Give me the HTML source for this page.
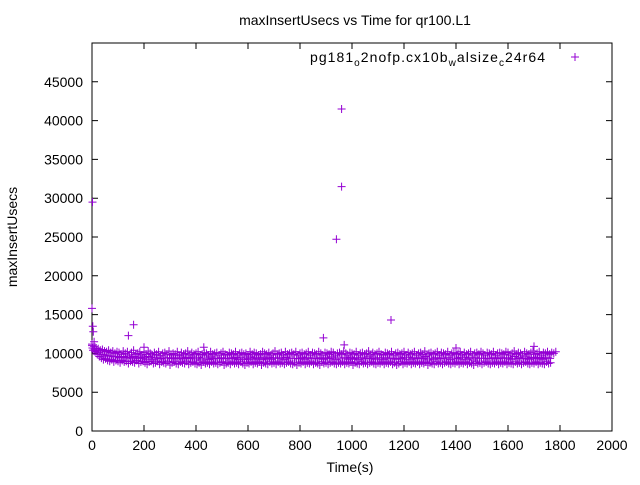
<!DOCTYPE html>
<html><head><meta charset="utf-8"><style>
body{margin:0;background:#fff}
svg text{font-family:"Liberation Sans",sans-serif;font-size:14px;fill:#000}
</style></head><body>
<svg id="chart" width="640" height="480" xmlns="http://www.w3.org/2000/svg">
<rect width="640" height="480" fill="#fff"/>
<text x="355" y="25" text-anchor="middle">maxInsertUsecs vs Time for qr100.L1</text>
<text transform="translate(17,237) rotate(-90)" text-anchor="middle">maxInsertUsecs</text>
<text x="350" y="472" text-anchor="middle">Time(s)</text>
<g id="axes"></g>
<g id="marks"></g>
<g>
<text x="310" y="62" textLength="235" lengthAdjust="spacing">pg181<tspan dy="4" font-size="10">o</tspan><tspan dy="-4">2nofp.cx10b</tspan><tspan dy="4" font-size="10">w</tspan><tspan dy="-4">alsize</tspan><tspan dy="4" font-size="10">c</tspan><tspan dy="-4">24r64</tspan></text>
<path d="M571 57h8M575 53v8" stroke="#9400d3" stroke-width="1"/>
</g>
</svg>
<script>
const xTicks=[0,200,400,600,800,1000,1200,1400,1600,1800,2000];
const yTicks=[0,5000,10000,15000,20000,25000,30000,35000,40000,45000];
const upper=[11000,10900,10700,10600,10400,10500,10300,10200,10400,10100,10300,10000,10200,10100,9900,10300,10000,10200,9800,10100,10400,9900,10000,10200,9800,10100,9900,10300,10000,9800,10100,9900,10200,9700,10000,10100,9900,10300,9800,10000,9900,10200,9700,10100,9900,10000,10300,9800,10100,9900,10000,10200,9800,9900,10100,10000,9800,10200,9900,10000,10100,9800,10000,10200,9900,9800,10100,10000,9900,10200,9800,10000,10100,9900,10000,9800,10200,9900,10100,10000,9800,9900,10200,10000,9900,10100,9800,10000,10300,9900,10000,10100,9800,10200,9900,10000,10100,9900,10200,9800,10000,10100,9900,10000,10200,9800,10100,10000,9900,10200,10000,9800,10100,10000,9900,10200,10100,9800,10000,10100,9900,10300,10000,9800,10100,10000,9900,10200,9800,10000,10100,9900,10000,10300,9800,10100,9900,10000,10200,9900,9800,10100,10000,9900,10200,9800,10000,10100,9900,10000,10200,9800,10100,9900,10000,10200,9800,10000,10100,9900,10300,9800,10000,10100,9900,10000,10200,9800,10100,10000,9900,10200,9800,10000,10100,9900,10000,10200,9800,10100,9900,10000,10200,9800,10000,10100,9900,10200,10000,9800,10100,10000,9900,10200,9800,10000,10100,10000,9900,10200,10100,9800,10000,10300,9900,10100,10000,9800,10200,10000,9900,10100,10300,9900,10000,10200,9800,10100,10000,10200,9900,10100,10000,10200];
const lower=[10400,10200,9900,9600,9400,9200,9300,9100,9000,9200,8900,9100,9000,8800,9100,8900,9000,8700,9000,8900,8800,9100,8700,8900,9000,8800,8600,8900,9000,8700,8800,9000,8600,8900,8800,8700,9000,8500,8800,8900,8700,8600,8900,8800,8700,9000,8600,8800,8900,8700,8600,8800,8500,8900,8700,8800,8600,8900,8700,8800,8600,8800,8900,8500,8700,8800,8600,8900,8700,8800,8600,8900,8700,8500,8800,8700,8900,8600,8800,8700,8900,8500,8800,8700,8600,8900,8700,8800,8600,8900,8700,8800,8600,8800,8900,8700,8600,8800,8500,8800,8700,8900,8600,8800,8700,8900,8600,8800,8700,8500,8900,8700,8800,8600,8800,8900,8700,8600,8800,8700,8900,8600,8800,8700,8900,8500,8800,8700,8600,8900,8700,8800,8600,8800,8900,8700,8600,8800,8700,8900,8600,8800,8700,8900,8600,8800,8500,8700,8900,8600,8800,8700,8900,8600,8800,8700,8900,8600,8800,8700,8900,8500,8800,8700,8600,8900,8700,8800,8600,8800,8900,8700,8600,8800,8700,8900,8600,8800,8700,8900,8600,8800,8700,8500,8900,8700,8800,8600,8800,8900,8700,8600,8800,8700,8900,8600,8800,8700,8900,8600,8800,8700,8600,8900,8700,8800,8600,8800,8900,8700,8600,8800,8700,8900,8600,8800,8700,8600,8900,8700,8800];
const outlierT=[0,3,5,8,2,140,160,200,430,890,940,960,960,1150,970,1400,1700,0];
const outlierV=[15800,13500,12800,11500,29500,12300,13700,10800,10800,12000,24700,41500,31500,14300,11100,10700,10900,11200];
const STEP=8;
const X0=92,X1=612,Y0=431,Y1=43,XMAX=2000,YMAX=50000;
const sx=v=>X0+(X1-X0)*v/XMAX, sy=v=>Y0-(Y0-Y1)*v/YMAX;
const NS="http://www.w3.org/2000/svg";
const ax=document.getElementById('axes'), mk=document.getElementById('marks');
function el(tag,attrs,parent){const e=document.createElementNS(NS,tag);for(const k in attrs)e.setAttribute(k,attrs[k]);parent.appendChild(e);return e;}
const frame=el('rect',{x:X0,y:Y1,width:X1-X0,height:Y0-Y1,fill:'none',stroke:'#000','stroke-width':1},ax);


xTicks.forEach(t=>{
 const x=sx(t);
 const p=el('path',{d:`M${x} ${Y0}v-6M${x} ${Y1}v6`,stroke:'#000'},ax);
 
 
 const tx=el('text',{x:x,y:Y0+19,'text-anchor':'middle'},ax);tx.textContent=t;
 
 
});
yTicks.forEach(t=>{
 const y=sy(t);
 const p=el('path',{d:`M${X0} ${y}h6M${X1} ${y}h-6`,stroke:'#000'},ax);
 
 
 const tx=el('text',{x:X0-9,y:y+5,'text-anchor':'end'},ax);tx.textContent=t;
 
 
});
function plusPath(ts,vs,name){
 let d='';
 for(let i=0;i<ts.length;i++){
  const t=ts[i],v=vs[i];
  if(!isFinite(t)||!isFinite(v))continue;
  const x=sx(t),y=sy(v);
  d+=`M${(x-4).toFixed(1)} ${y.toFixed(1)}h8M${x.toFixed(1)} ${(y-4).toFixed(1)}v8`;
 }
 const p=el('path',{d:d,stroke:'#9400d3','stroke-width':1,fill:'none'},mk);
 
 
}
const n=Math.min(upper.length,lower.length);
plusPath(upper.map((v,i)=>i*STEP),upper,'series-points-upper');
plusPath(lower.map((v,i)=>i*STEP+4),lower,'series-points-lower');
const midT=[],midV=[];
for(let i=0;i<n;i++){midT.push(i*STEP+2);midV.push((upper[i]+lower[i])/2);}
plusPath(midT,midV,'series-points-mid');
plusPath(outlierT,outlierV,'series-points-outliers');
</script>
</body></html>
